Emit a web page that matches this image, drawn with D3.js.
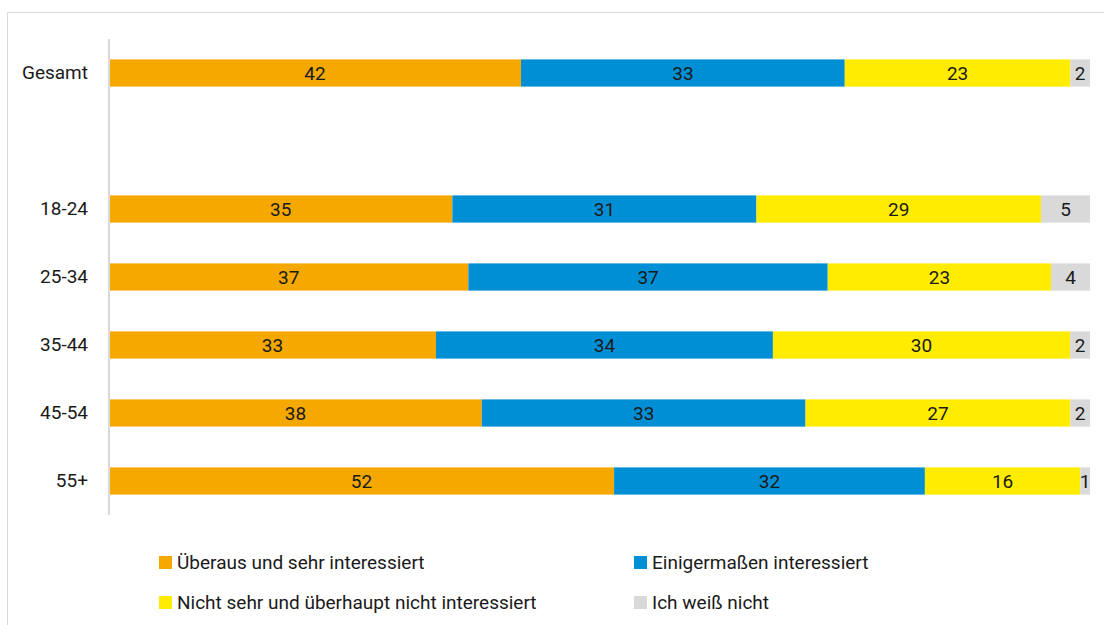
<!DOCTYPE html>
<html><head><meta charset="utf-8">
<script src="https://cdn.jsdelivr.net/npm/d3@7"></script>
<style>
html,body{margin:0;padding:0;background:#fff;}
svg text{font-family:"Liberation Sans Narrow","Roboto",sans-serif;fill:#1a1a1a;}
</style></head>
<body>
<svg id="chart" width="1104" height="625"></svg>
<script>
const categories = ["Gesamt", "", "18-24", "25-34", "35-44", "45-54", "55+"];
const seriesNames = ["Überaus und sehr interessiert", "Einigermaßen interessiert", "Nicht sehr und überhaupt nicht interessiert", "Ich weiß nicht"];
const seriesColors = ["#F5A800", "#008FD5", "#FFEC00", "#D9D9D9"];
const sehr = [42, null, 35, 37, 33, 38, 52];
const einiger = [33, null, 31, 37, 34, 33, 32];
const nicht = [23, null, 29, 23, 30, 27, 16];
const weissNicht = [2, null, 5, 4, 2, 2, 1];

const series = [sehr, einiger, nicht, weissNicht];
const svg = d3.select("#chart");

svg.append("rect").attr("x", 7.5).attr("y", 12.5).attr("width", 1110).attr("height", 620)
  .attr("fill", "none").attr("stroke", "#d9d9d9").attr("stroke-width", 1);

const x = d3.scaleLinear().domain([0, 1]).range([109, 1090]);
const y = d3.scaleBand().domain(categories.map((c, i) => i)).range([39, 515]).paddingInner(0.6).paddingOuter(0.3);

categories.forEach((cat, i) => {
  if (sehr[i] == null) return;
  const vals = series.map(s => s[i]);
  const total = d3.sum(vals);
  let cum = 0;
  vals.forEach((v, j) => {
    const x0 = x(cum / total), x1 = x((cum + v) / total);
    svg.append("rect").attr("x", x0).attr("y", y(i)).attr("width", x1 - x0).attr("height", y.bandwidth())
      .attr("fill", seriesColors[j]);
    svg.append("text").attr("x", (x0 + x1) / 2).attr("y", y(i) + y.bandwidth() / 2)
      .attr("dy", "0.36em").attr("text-anchor", "middle").attr("font-size", 19).text(v);
    cum += v;
  });
});

const yAxis = svg.append("g").attr("transform", "translate(109,0)")
  .call(d3.axisLeft(y).tickSize(0).tickPadding(21).tickFormat(i => categories[i]));
yAxis.select(".domain").attr("stroke", "#d9d9d9").attr("stroke-width", 2).attr("d", "M0,39V515");
yAxis.selectAll("text").attr("font-size", 19).style("font-family", '"Liberation Sans Narrow","Roboto",sans-serif').attr("fill", "#1a1a1a");

const legendPos = [[159, 562], [634, 562], [159, 602], [634, 602]];
seriesNames.forEach((n, j) => {
  const g = svg.append("g").attr("transform", `translate(${legendPos[j][0]},${legendPos[j][1]})`);
  g.append("rect").attr("x", 0).attr("y", -6).attr("width", 13).attr("height", 13).attr("fill", seriesColors[j]);
  g.append("text").attr("x", 18).attr("y", 0).attr("dy", "0.36em").attr("font-size", 19).text(n);
});
</script>
</body></html>
